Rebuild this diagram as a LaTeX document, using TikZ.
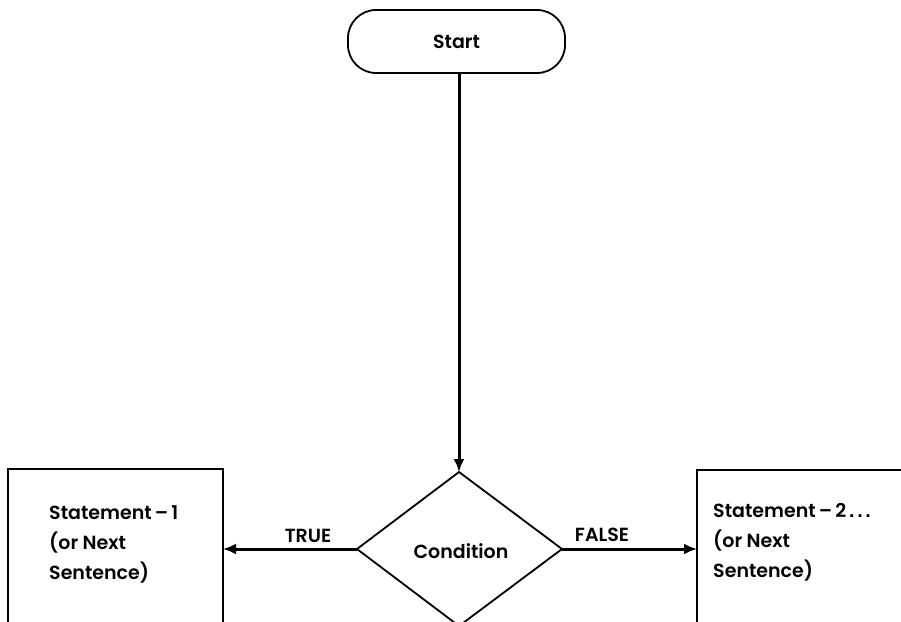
\documentclass[tikz,border=0pt]{standalone}
\usepackage{fontspec}
\setmainfont{Poppins SemiBold}
\usetikzlibrary{arrows.meta}
\begin{document}
\begin{tikzpicture}[x=1pt,y=-1pt,
  every node/.style={font=\fontsize{19}{30}\selectfont},
  outline/.style={draw=black,line width=1.8pt},
  flow/.style={line width=3pt,-{Latex[length=13pt,width=11pt]}},
  lbl/.style={inner sep=0pt}]
  \useasboundingbox (0,0) rectangle (901,621);

  % terminal
  \draw[outline,rounded corners=28pt] (348,10) rectangle (565,73);
  \node[lbl] (start) at (456.5,41.5) {Start};
  \coordinate (startb) at (459,73);

  % decision diamond (runs off the lower edge)
  \coordinate (dt) at (459,472);
  \coordinate (dl) at (357,549);
  \coordinate (dr) at (562,549);
  \coordinate (db) at (459,626);
  \draw[outline] (dt) -- (dr) -- (db) -- (dl) -- cycle;
  \node[lbl] (cond) at (461,551) {Condition};

  % statement boxes (run off the edges)
  \draw[outline] (8,640) -- (8,469) -- (223,469) -- (223,640);
  \coordinate (s1) at (223,549);
  \node[lbl,align=left,anchor=north west] (t1) at (49,505) {Statement\,--\,1\\(or Next\\Sentence)};

  \draw[outline] (697,640) -- (697,470) -- (920,470);
  \coordinate (s2) at (697,549);
  \node[lbl,align=left,anchor=north west] (t2) at (713,503) {Statement\,--\,2\,.\,.\,.\\(or Next\\Sentence)};

  % connectors
  \draw[flow] (startb) -- (dt);
  \draw[flow] (dl) -- (s1);
  \draw[flow] (dr) -- (s2);

  \node[lbl] (true) at (308,536) {TRUE};
  \node[lbl] (false) at (602,535) {FALSE};
\end{tikzpicture}
\end{document}
